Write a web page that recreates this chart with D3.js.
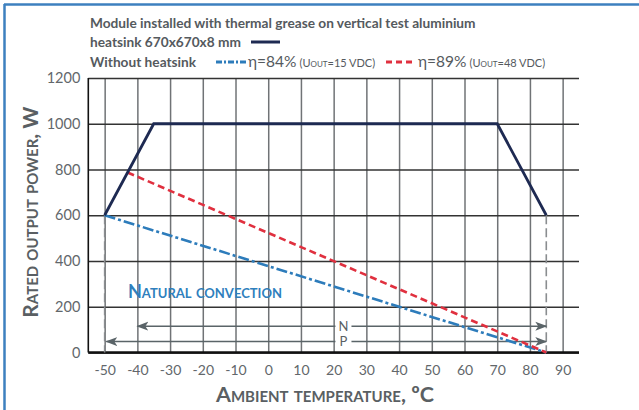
<!DOCTYPE html>
<html lang="en">
<head>
<meta charset="UTF-8">
<title>Rated output power vs ambient temperature</title>
<script src="https://d3js.org/d3.v7.min.js"></script>
<style>
  body { margin: 0; background: #fff; overflow: hidden; }
  svg { display: block; font-family: 'Lato', sans-serif; }
  .tick-label text { fill: #62676b; }
  .legend { fill: #555a5e; font-size: 13.7px; font-weight: bold; }
</style>
</head>
<body>
<script>
// data
const xTicks = [-50, -40, -30, -20, -10, 0, 10, 20, 30, 40, 50, 60, 70, 80, 90];
const yTicks = [0, 200, 400, 600, 800, 1000, 1200];

const heatsinkTemp = [-50, -35, 70, 85];
const heatsinkPower = [600, 1000, 1000, 600];
const eta84Temp = [-50, 85];
const eta84Power = [600, 0];
const eta89Temp = [-43, 85];
const eta89Power = [787, 0];

const limitTemps = [-50, 85];
const limitPower = 600;
const rangeN = [-40, 85];
const rangeP = [-49.5, 85];
const rangeLevels = { N: 115, P: 48 };

const width = 639, height = 410;

const svg = d3.select("body").append("svg")
    .attr("width", width)
    .attr("height", height);

const defs = svg.append("defs");
defs.append("marker")
    .attr("id", "arrow")
    .attr("viewBox", "0 -5 12 10")
    .attr("refX", 11).attr("refY", 0)
    .attr("markerUnits", "userSpaceOnUse")
    .attr("markerWidth", 12).attr("markerHeight", 10)
    .attr("orient", "auto-start-reverse")
    .append("path")
    .attr("d", "M0,-4.5L12,0L0,4.5L3,0Z")
    .attr("fill", "#5a6468");

// frame
svg.append("line").attr("x1", 4).attr("x2", width).attr("y1", 4.5).attr("y2", 4.5)
    .attr("stroke", "#3d80bf").attr("stroke-width", 2.5);
svg.append("line").attr("x1", 4.5).attr("x2", 4.5).attr("y1", 4).attr("y2", height)
    .attr("stroke", "#3d80bf").attr("stroke-width", 2.5);

const x = d3.scaleLinear().domain([-55, 95]).range([88.3, 579]);
const y = d3.scaleLinear().domain([0, 1200]).range([352.5, 78]);

// vertical grid
svg.append("g")
    .attr("transform", `translate(0,${y(0)})`)
    .call(d3.axisBottom(x).tickValues(xTicks).tickSize(-(y(0) - y(1200))).tickFormat(""))
    .call(g => g.select(".domain").remove())
    .call(g => g.selectAll("line").attr("stroke", "#707376").attr("stroke-width", 1.5));

// horizontal grid
svg.append("g")
    .attr("transform", `translate(${x(-55)},0)`)
    .call(d3.axisLeft(y).tickValues(yTicks).tickSize(-(x(95) - x(-55))).tickFormat(""))
    .call(g => g.select(".domain").remove())
    .call(g => g.selectAll("line").attr("stroke", "#333").attr("stroke-width", 1.4));

// axes lines
svg.append("line").attr("x1", x(-55)).attr("x2", x(-55)).attr("y1", y(1200)).attr("y2", y(0))
    .attr("stroke", "#111").attr("stroke-width", 1.6);
svg.append("line").attr("x1", x(-55)).attr("x2", x(95)).attr("y1", y(0)).attr("y2", y(0))
    .attr("stroke", "#111").attr("stroke-width", 2.6);

// tick labels
svg.append("g")
    .attr("class", "tick-label")
    .attr("transform", `translate(0,${y(0)})`)
    .call(d3.axisBottom(x).tickValues(xTicks).tickSize(0).tickPadding(13).tickFormat(d => String(d)))
    .call(g => g.select(".domain").remove())
    .call(g => g.selectAll("text").attr("font-family", "Lato, sans-serif").attr("font-size", 14));

svg.append("g")
    .attr("class", "tick-label")
    .attr("transform", `translate(${x(-55)},0)`)
    .call(d3.axisLeft(y).tickValues(yTicks).tickSize(0).tickPadding(8).tickFormat(d => String(d)))
    .call(g => g.select(".domain").remove())
    .call(g => g.selectAll("text").attr("font-family", "Lato, sans-serif").attr("font-size", 14.5));

// dashed limit verticals
svg.selectAll(".limit")
    .data(limitTemps)
    .enter().append("line")
    .attr("class", "limit")
    .attr("x1", d => x(d)).attr("x2", d => x(d))
    .attr("y1", y(limitPower)).attr("y2", y(0))
    .attr("stroke", "#8a8d90").attr("stroke-width", 1.6)
    .attr("stroke-dasharray", "9,4");

// N / P ranges
Object.entries({ N: rangeN, P: rangeP }).forEach(([name, r]) => {
    const yy = y(rangeLevels[name]);
    svg.append("line")
        .attr("x1", x(r[0])).attr("x2", x(r[1]))
        .attr("y1", yy).attr("y2", yy)
        .attr("stroke", "#5a6468").attr("stroke-width", 1.6)
        .attr("marker-start", "url(#arrow)")
        .attr("marker-end", "url(#arrow)");
    svg.append("rect")
        .attr("x", x(23) - 8).attr("y", yy - 6)
        .attr("width", 16).attr("height", 12)
        .attr("fill", "#fff");
    svg.append("text")
        .attr("x", x(23)).attr("y", yy + 4.8)
        .attr("text-anchor", "middle")
        .attr("fill", "#5a5f63")
        .attr("font-size", 13)
        .text(name);
});

// curves
const line = d3.line().x(d => x(d[0])).y(d => y(d[1]));

svg.append("path")
    .datum(d3.zip(eta84Temp, eta84Power))
    .attr("d", line)
    .attr("fill", "none")
    .attr("stroke", "#2d7cbb").attr("stroke-width", 2.6)
    .attr("stroke-dasharray", "11,3,3,3");

svg.append("path")
    .datum(d3.zip(eta89Temp, eta89Power))
    .attr("d", line)
    .attr("fill", "none")
    .attr("stroke", "#e0303f").attr("stroke-width", 2.6)
    .attr("stroke-dasharray", "7,4");

svg.append("path")
    .datum(d3.zip(heatsinkTemp, heatsinkPower))
    .attr("d", line)
    .attr("fill", "none")
    .attr("stroke", "#1e2a52").attr("stroke-width", 2.8)
    .attr("stroke-linejoin", "miter");

// annotation
svg.append("text")
    .attr("x", 128).attr("y", 297.5)
    .attr("fill", "#2f7fbd")
    .attr("font-size", 18).attr("font-weight", "bold")
    .style("font-variant", "small-caps")
    .text("Natural convection");

// axis titles
svg.append("text")
    .attr("transform", `translate(38,${(y(0) + y(1200)) / 2 - 3}) rotate(-90)`)
    .attr("text-anchor", "middle")
    .attr("fill", "#5a5f63")
    .attr("font-size", 21).attr("font-weight", "bold")
    .style("font-variant", "small-caps")
    .text("Rated output power, W");

svg.append("text")
    .attr("x", 325).attr("y", 402)
    .attr("text-anchor", "middle")
    .attr("fill", "#5a5f63")
    .attr("font-size", 21.5).attr("font-weight", "bold")
    .style("font-variant", "small-caps")
    .text("Ambient temperature, ºC");

// legend
svg.append("text").attr("class", "legend").attr("x", 90).attr("y", 27.5)
    .text("Module installed with thermal grease on vertical test aluminium");
svg.append("text").attr("class", "legend").attr("x", 90).attr("y", 46.5)
    .text("heatsink 670x670x8 mm");
svg.append("line").attr("x1", 251).attr("x2", 280).attr("y1", 42).attr("y2", 42)
    .attr("stroke", "#1e2a52").attr("stroke-width", 3);

svg.append("text").attr("class", "legend").attr("x", 90).attr("y", 66.5)
    .text("Without heatsink");

const legendItems = [
    { x0: 216, color: "#2d7cbb", dash: "6,2,2,2", eta: "η=84%", u: "=15 VDC)" },
    { x0: 386, color: "#e0303f", dash: "6,4", eta: "η=89%", u: "=48 VDC)" }
];
legendItems.forEach(item => {
    svg.append("line")
        .attr("x1", item.x0).attr("x2", item.x0 + 30)
        .attr("y1", 62).attr("y2", 62)
        .attr("stroke", item.color).attr("stroke-width", 3)
        .attr("stroke-dasharray", item.dash);
    const t = svg.append("text")
        .attr("x", item.x0 + 32).attr("y", 67)
        .attr("fill", "#555a5e");
    t.append("tspan").attr("font-size", 15.5).text(item.eta);
    t.append("tspan").attr("font-size", 11).attr("dx", 3).text("(U");
    t.append("tspan").attr("font-size", 11).style("font-variant", "small-caps").text("out");
    t.append("tspan").attr("font-size", 11).text(item.u);
});
</script>
</body>
</html>
